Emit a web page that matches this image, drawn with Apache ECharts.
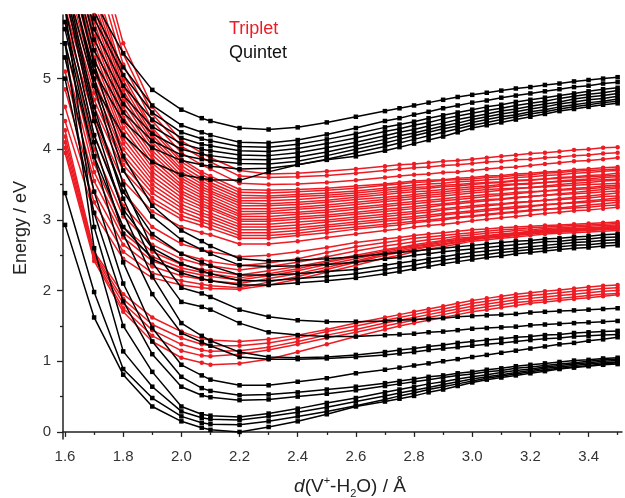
<!DOCTYPE html>
<html><head><meta charset="utf-8">
<script src="https://cdn.jsdelivr.net/npm/echarts@6/dist/echarts.min.js"></script>
<style>html,body{margin:0;padding:0;background:#fff}#c{width:625px;height:498px}</style>
</head><body><div id="c"></div>
<script>
// distance grid (Å)
const xValues = [1.6,1.7,1.8,1.9,2.0,2.07,2.1,2.2,2.3,2.4,2.5,2.6,2.7,2.75,2.8,2.85,2.9,2.95,3.0,3.05,3.1,3.15,3.2,3.25,3.3,3.35,3.4,3.45,3.5];
const xMajorTicks = [1.6,1.8,2.0,2.2,2.4,2.6,2.8,3.0,3.2,3.4];
const xMinorTicks = [1.7,1.9,2.1,2.3,2.5,2.7,2.9,3.1,3.3,3.5];
const yMajorTicks = [0,1,2,3,4,5];
const yMinorTicks = [0.5,1.5,2.5,3.5,4.5,5.5];

// Quintet states (eV)
const quintetBandA = [
 [8.0,6.1,5.36,4.84,4.56,4.44,4.40,4.30,4.28,4.31,4.38,4.46,4.54,4.58,4.62,4.66,4.70,4.74,4.77,4.80,4.83,4.86,4.88,4.91,4.93,4.96,4.98,5.00,5.02],
 [7.8,5.95,5.16,4.62,4.34,4.24,4.20,4.10,4.09,4.13,4.21,4.30,4.40,4.44,4.49,4.53,4.58,4.62,4.66,4.69,4.73,4.76,4.79,4.82,4.85,4.88,4.90,4.93,4.95],
 [7.6,5.85,5.05,4.52,4.24,4.15,4.12,4.04,4.03,4.07,4.14,4.22,4.31,4.35,4.39,4.44,4.48,4.52,4.56,4.60,4.63,4.67,4.70,4.73,4.76,4.79,4.82,4.85,4.87],
 [7.4,5.7,4.90,4.42,4.16,4.07,4.05,3.98,3.97,4.01,4.08,4.16,4.25,4.29,4.34,4.38,4.43,4.47,4.51,4.55,4.58,4.62,4.65,4.68,4.72,4.75,4.78,4.80,4.83],
 [7.2,5.55,4.76,4.32,4.08,4.00,3.98,3.92,3.91,3.95,4.02,4.10,4.19,4.24,4.28,4.33,4.37,4.42,4.46,4.50,4.54,4.57,4.61,4.64,4.67,4.71,4.74,4.76,4.79],
 [7.0,5.4,4.64,4.22,4.00,3.93,3.91,3.86,3.85,3.89,3.96,4.05,4.14,4.19,4.23,4.28,4.33,4.37,4.42,4.46,4.50,4.53,4.57,4.60,4.64,4.67,4.70,4.72,4.75],
 [6.8,5.25,4.52,4.12,3.92,3.86,3.84,3.80,3.79,3.83,3.91,4.00,4.09,4.14,4.19,4.24,4.29,4.33,4.38,4.42,4.46,4.49,4.53,4.56,4.60,4.63,4.66,4.68,4.71],
 [6.6,5.1,4.40,4.02,3.84,3.78,3.76,3.72,3.73,3.78,3.86,3.95,4.04,4.09,4.14,4.19,4.24,4.29,4.34,4.38,4.42,4.46,4.50,4.53,4.57,4.60,4.63,4.66,4.68],
 [6.4,4.9,4.20,3.82,3.64,3.59,3.57,3.56,3.68,3.78,3.85,3.90,3.98,4.03,4.08,4.13,4.18,4.24,4.30,4.34,4.38,4.42,4.46,4.50,4.54,4.57,4.60,4.63,4.65]
];
const quintetBandC = [
 [7.0,5.2,3.9,3.2,2.85,2.70,2.63,2.45,2.42,2.43,2.45,2.48,2.52,2.54,2.56,2.58,2.60,2.62,2.64,2.66,2.68,2.70,2.71,2.73,2.74,2.76,2.77,2.79,2.80],
 [6.7,5.0,3.7,3.05,2.72,2.58,2.52,2.36,2.34,2.35,2.37,2.40,2.45,2.47,2.50,2.52,2.55,2.57,2.59,2.61,2.63,2.65,2.67,2.69,2.70,2.72,2.73,2.75,2.76],
 [6.3,4.5,3.4,2.8,2.52,2.40,2.35,2.22,2.22,2.24,2.27,2.30,2.36,2.39,2.42,2.45,2.48,2.51,2.54,2.56,2.58,2.60,2.62,2.64,2.66,2.68,2.69,2.71,2.72],
 [6.0,4.2,3.15,2.6,2.38,2.28,2.24,2.14,2.14,2.17,2.20,2.24,2.30,2.33,2.36,2.40,2.43,2.46,2.49,2.51,2.54,2.56,2.58,2.60,2.62,2.64,2.65,2.67,2.68],
 [5.7,3.9,2.9,2.45,2.25,2.17,2.14,2.08,2.08,2.11,2.14,2.18,2.24,2.27,2.31,2.34,2.38,2.41,2.44,2.47,2.49,2.52,2.54,2.56,2.58,2.60,2.61,2.63,2.64]
];
const quintetBandB = [
 [6.8,4.9,3.5,2.6,2.04,1.96,1.91,1.73,1.63,1.58,1.56,1.56,1.57,1.58,1.59,1.60,1.61,1.63,1.64,1.65,1.66,1.67,1.69,1.70,1.71,1.72,1.73,1.74,1.75],
 [6.4,4.6,3.3,2.4,1.84,1.77,1.73,1.54,1.41,1.37,1.35,1.35,1.37,1.38,1.39,1.41,1.42,1.44,1.46,1.47,1.48,1.49,1.51,1.52,1.53,1.54,1.55,1.56,1.57],
 [6.2,4.4,3.1,2.2,1.54,1.36,1.29,1.13,1.06,1.05,1.06,1.09,1.13,1.16,1.18,1.21,1.23,1.26,1.28,1.30,1.32,1.34,1.35,1.37,1.38,1.40,1.41,1.42,1.43],
 [5.8,4.1,2.8,1.95,1.40,1.27,1.22,1.06,1.03,1.03,1.04,1.06,1.09,1.11,1.13,1.16,1.18,1.20,1.22,1.24,1.26,1.28,1.30,1.32,1.33,1.35,1.36,1.37,1.38],
 [5.5,3.9,2.4,1.47,0.95,0.80,0.74,0.66,0.66,0.71,0.76,0.83,0.88,0.91,0.94,0.97,1.00,1.03,1.06,1.09,1.12,1.15,1.18,1.21,1.24,1.26,1.29,1.31,1.34]
];
const quintetBandL = [
 [5.3,3.4,2.1,1.28,0.78,0.62,0.58,0.52,0.53,0.56,0.60,0.64,0.69,0.72,0.75,0.78,0.80,0.83,0.85,0.88,0.90,0.93,0.95,0.97,0.99,1.01,1.02,1.04,1.05],
 [5.0,3.1,1.85,1.10,0.64,0.52,0.49,0.45,0.46,0.50,0.54,0.59,0.65,0.68,0.71,0.74,0.77,0.80,0.82,0.85,0.87,0.90,0.92,0.94,0.96,0.98,1.00,1.02,1.03],
 [6.0,2.9,1.50,0.85,0.36,0.25,0.23,0.21,0.26,0.33,0.41,0.48,0.56,0.60,0.64,0.68,0.71,0.75,0.78,0.81,0.84,0.87,0.89,0.92,0.94,0.96,0.98,1.00,1.01],
 [5.5,2.6,1.14,0.64,0.29,0.20,0.18,0.17,0.22,0.28,0.35,0.43,0.51,0.55,0.59,0.63,0.67,0.71,0.75,0.78,0.81,0.84,0.87,0.90,0.92,0.94,0.96,0.98,0.99],
 [3.38,1.98,0.89,0.48,0.22,0.13,0.11,0.10,0.15,0.22,0.29,0.37,0.46,0.51,0.55,0.60,0.64,0.68,0.72,0.76,0.79,0.82,0.85,0.88,0.90,0.92,0.94,0.96,0.98],
 [2.93,1.62,0.81,0.36,0.15,0.06,0.03,0.00,0.07,0.15,0.25,0.36,0.43,0.47,0.51,0.56,0.60,0.65,0.70,0.74,0.77,0.80,0.83,0.86,0.89,0.91,0.93,0.95,0.96]
];

// Triplet states (eV)
const tripletBand1 = [
 [9.5,7.0,5.5,4.6,4.12,3.95,3.88,3.70,3.65,3.66,3.69,3.72,3.76,3.78,3.79,3.81,3.83,3.84,3.86,3.88,3.90,3.92,3.94,3.95,3.97,3.99,4.00,4.02,4.03],
 [9.2,6.8,5.35,4.5,4.04,3.88,3.82,3.62,3.60,3.61,3.63,3.66,3.70,3.72,3.74,3.75,3.77,3.78,3.80,3.82,3.83,3.85,3.86,3.88,3.89,3.91,3.92,3.94,3.95],
 [8.9,6.6,5.2,4.4,3.95,3.78,3.72,3.52,3.50,3.51,3.53,3.56,3.60,3.62,3.64,3.65,3.67,3.68,3.70,3.72,3.74,3.75,3.77,3.79,3.81,3.83,3.84,3.86,3.88],
 [8.6,6.4,5.05,4.3,3.86,3.68,3.62,3.43,3.42,3.43,3.45,3.48,3.51,3.53,3.55,3.56,3.57,3.59,3.60,3.62,3.63,3.65,3.66,3.68,3.69,3.71,3.72,3.74,3.75],
 [8.45,6.3,4.98,4.26,3.82,3.64,3.58,3.39,3.38,3.40,3.42,3.45,3.49,3.51,3.53,3.54,3.56,3.57,3.58,3.60,3.61,3.63,3.64,3.66,3.67,3.69,3.70,3.71,3.72],
 [8.3,6.2,4.9,4.2,3.77,3.59,3.53,3.35,3.34,3.36,3.38,3.41,3.45,3.47,3.49,3.51,3.52,3.54,3.55,3.57,3.58,3.60,3.61,3.63,3.64,3.66,3.67,3.69,3.70],
 [8.15,6.1,4.83,4.15,3.72,3.55,3.49,3.31,3.31,3.33,3.35,3.38,3.42,3.44,3.46,3.47,3.49,3.50,3.52,3.53,3.54,3.56,3.57,3.58,3.59,3.60,3.61,3.62,3.63],
 [8.0,6.0,4.75,4.1,3.68,3.51,3.45,3.27,3.27,3.29,3.32,3.35,3.39,3.41,3.43,3.45,3.47,3.48,3.50,3.52,3.53,3.55,3.56,3.58,3.60,3.61,3.63,3.64,3.66],
 [7.85,5.9,4.68,4.04,3.63,3.47,3.41,3.24,3.23,3.25,3.28,3.32,3.36,3.38,3.40,3.41,3.43,3.45,3.47,3.48,3.50,3.51,3.52,3.53,3.54,3.55,3.56,3.57,3.58],
 [7.7,5.8,4.6,3.98,3.59,3.43,3.38,3.20,3.20,3.22,3.25,3.29,3.32,3.34,3.36,3.38,3.40,3.42,3.44,3.46,3.48,3.50,3.51,3.53,3.55,3.57,3.58,3.60,3.61],
 [7.55,5.7,4.53,3.92,3.55,3.39,3.34,3.16,3.16,3.18,3.21,3.25,3.29,3.31,3.33,3.35,3.37,3.39,3.41,3.43,3.44,3.45,3.46,3.47,3.48,3.49,3.50,3.51,3.52],
 [7.4,5.6,4.45,3.86,3.50,3.35,3.30,3.12,3.12,3.15,3.18,3.22,3.26,3.28,3.30,3.32,3.34,3.36,3.38,3.40,3.42,3.44,3.46,3.48,3.50,3.52,3.53,3.55,3.56],
 [7.25,5.5,4.38,3.80,3.46,3.31,3.26,3.08,3.09,3.11,3.14,3.18,3.22,3.24,3.26,3.28,3.30,3.32,3.34,3.36,3.37,3.39,3.40,3.41,3.42,3.43,3.44,3.46,3.47],
 [7.1,5.4,4.3,3.74,3.41,3.27,3.22,3.05,3.05,3.08,3.11,3.15,3.19,3.21,3.23,3.25,3.27,3.29,3.31,3.33,3.35,3.37,3.39,3.41,3.43,3.45,3.46,3.48,3.49],
 [6.95,5.3,4.22,3.68,3.37,3.23,3.18,3.01,3.01,3.04,3.07,3.11,3.15,3.17,3.19,3.21,3.23,3.25,3.27,3.29,3.30,3.32,3.33,3.35,3.36,3.37,3.38,3.40,3.41],
 [6.8,5.2,4.15,3.62,3.32,3.19,3.15,2.98,2.98,3.01,3.04,3.08,3.12,3.14,3.16,3.18,3.21,3.23,3.25,3.27,3.29,3.31,3.33,3.35,3.37,3.39,3.41,3.43,3.45],
 [6.65,5.1,4.08,3.56,3.27,3.15,3.10,2.94,2.94,2.97,3.00,3.04,3.08,3.10,3.12,3.14,3.16,3.18,3.20,3.22,3.23,3.25,3.26,3.28,3.29,3.30,3.31,3.33,3.34],
 [6.5,5.0,4.0,3.50,3.22,3.10,3.06,2.90,2.90,2.93,2.97,3.01,3.05,3.07,3.09,3.11,3.14,3.16,3.18,3.20,3.22,3.24,3.26,3.28,3.30,3.32,3.34,3.36,3.38],
 [6.35,4.9,3.92,3.44,3.17,3.06,3.02,2.86,2.86,2.89,2.93,2.97,3.01,3.03,3.05,3.07,3.09,3.11,3.13,3.15,3.17,3.19,3.20,3.22,3.23,3.24,3.25,3.27,3.28],
 [6.2,4.8,3.85,3.38,3.12,3.01,2.97,2.82,2.82,2.85,2.90,2.94,2.98,3.00,3.02,3.04,3.07,3.09,3.11,3.13,3.15,3.17,3.19,3.21,3.23,3.25,3.27,3.29,3.31],
 [6.1,4.7,3.78,3.31,3.06,2.97,2.93,2.78,2.78,2.81,2.86,2.90,2.94,2.96,2.98,3.00,3.02,3.04,3.06,3.08,3.10,3.12,3.14,3.15,3.16,3.17,3.18,3.20,3.21],
 [6.0,4.6,3.7,3.25,3.01,2.92,2.88,2.74,2.74,2.78,2.82,2.87,2.91,2.93,2.96,2.98,3.00,3.03,3.05,3.07,3.09,3.11,3.13,3.15,3.17,3.19,3.21,3.23,3.25],
 [5.8,4.45,3.55,3.12,2.90,2.82,2.79,2.66,2.66,2.70,2.75,2.80,2.85,2.87,2.90,2.92,2.94,2.96,2.99,3.01,3.03,3.05,3.07,3.09,3.11,3.13,3.14,3.16,3.18]
];
const tripletBand2 = [
 [6.2,4.4,3.4,2.9,2.66,2.58,2.55,2.48,2.50,2.55,2.61,2.68,2.73,2.75,2.78,2.80,2.82,2.84,2.86,2.87,2.89,2.90,2.91,2.92,2.93,2.94,2.95,2.96,2.97],
 [6.0,4.2,3.2,2.75,2.52,2.44,2.41,2.35,2.39,2.45,2.54,2.62,2.68,2.71,2.74,2.76,2.78,2.80,2.82,2.84,2.86,2.87,2.89,2.90,2.91,2.92,2.93,2.94,2.95],
 [5.8,4.0,3.05,2.65,2.45,2.37,2.35,2.29,2.34,2.40,2.48,2.56,2.63,2.66,2.69,2.72,2.74,2.77,2.79,2.81,2.83,2.85,2.86,2.88,2.89,2.90,2.91,2.92,2.93],
 [5.5,3.8,2.9,2.55,2.37,2.30,2.28,2.22,2.28,2.34,2.42,2.50,2.58,2.61,2.65,2.68,2.71,2.74,2.76,2.78,2.80,2.82,2.84,2.86,2.87,2.88,2.89,2.90,2.91],
 [5.3,3.68,2.82,2.48,2.32,2.26,2.24,2.18,2.24,2.31,2.40,2.48,2.56,2.60,2.63,2.66,2.70,2.72,2.75,2.77,2.79,2.81,2.83,2.85,2.86,2.87,2.88,2.89,2.90],
 [5.1,3.55,2.75,2.42,2.28,2.22,2.20,2.15,2.21,2.28,2.37,2.45,2.54,2.58,2.62,2.65,2.68,2.71,2.74,2.76,2.78,2.80,2.82,2.84,2.85,2.86,2.87,2.88,2.89],
 [4.85,3.4,2.65,2.34,2.21,2.16,2.14,2.10,2.17,2.24,2.33,2.42,2.52,2.56,2.60,2.63,2.66,2.69,2.73,2.75,2.77,2.79,2.81,2.83,2.84,2.85,2.86,2.87,2.88],
 [4.6,3.25,2.55,2.25,2.14,2.09,2.07,2.04,2.12,2.20,2.30,2.40,2.50,2.54,2.58,2.62,2.65,2.68,2.72,2.74,2.76,2.78,2.80,2.82,2.83,2.84,2.85,2.86,2.87],
 [4.4,3.1,2.45,2.18,2.08,2.04,2.03,2.02,2.08,2.16,2.26,2.36,2.46,2.50,2.55,2.59,2.62,2.66,2.70,2.72,2.74,2.76,2.78,2.80,2.81,2.82,2.83,2.84,2.85]
];
const tripletBand3 = [
 [4.27,2.55,1.95,1.62,1.42,1.32,1.30,1.28,1.31,1.37,1.45,1.54,1.62,1.66,1.70,1.74,1.78,1.82,1.86,1.89,1.92,1.95,1.97,1.99,2.01,2.03,2.05,2.07,2.08],
 [4.18,2.52,1.88,1.52,1.33,1.24,1.22,1.22,1.26,1.33,1.42,1.50,1.58,1.62,1.66,1.70,1.74,1.78,1.82,1.85,1.88,1.91,1.93,1.95,1.97,1.99,2.01,2.03,2.04],
 [4.10,2.49,1.82,1.44,1.24,1.16,1.14,1.15,1.20,1.28,1.37,1.45,1.54,1.58,1.62,1.66,1.70,1.74,1.78,1.81,1.84,1.87,1.89,1.91,1.93,1.95,1.97,1.99,2.00],
 [4.02,2.46,1.75,1.36,1.15,1.08,1.07,1.10,1.16,1.24,1.33,1.41,1.50,1.54,1.58,1.62,1.66,1.70,1.74,1.77,1.80,1.83,1.85,1.87,1.89,1.91,1.93,1.95,1.96],
 [3.95,2.42,1.70,1.28,1.05,0.98,0.95,0.97,1.03,1.13,1.24,1.35,1.45,1.50,1.54,1.58,1.62,1.66,1.70,1.73,1.76,1.79,1.82,1.84,1.86,1.88,1.90,1.92,1.94]
];

const RED = '#ED1C24';
const BLACK = '#000000';
const FONT = '"Liberation Sans", Arial, Helvetica, sans-serif';

const series = [];
function addCurves(curves, name, color, symbol, size, z) {
  curves.forEach(vals => {
    series.push({
      type: 'line', name: name,
      data: xValues.map((x, i) => [x, vals[i]]),
      symbol: symbol, symbolSize: size, showSymbol: true,
      smooth: false,
      lineStyle: { color: color, width: 1.5 },
      itemStyle: { color: color },
      clip: true, silent: true, animation: false, z: z
    });
  });
}
addCurves(tripletBand1, 'Triplet', RED, 'circle', 4.5, 2);
addCurves(tripletBand2, 'Triplet', RED, 'circle', 4.5, 2);
addCurves(tripletBand3, 'Triplet', RED, 'circle', 4.5, 2);
addCurves(quintetBandA, 'Quintet', BLACK, 'rect', 4.5, 3);
addCurves(quintetBandC, 'Quintet', BLACK, 'rect', 4.5, 3);
addCurves(quintetBandB, 'Quintet', BLACK, 'rect', 4.5, 3);
addCurves(quintetBandL, 'Quintet', BLACK, 'rect', 4.5, 3);

const X_MIN = 1.593, X_MAX = 3.515, Y_MIN = -0.1, Y_MAX = 5.9;
const axisColor = '#222';

const chart = echarts.init(document.getElementById('c'), null, { renderer: 'canvas' });
chart.setOption({
  animation: false,
  backgroundColor: '#fff',
  grid: { left: 63, top: 15, width: 559, height: 424, containLabel: false },
  xAxis: [
    { type: 'value', min: X_MIN, max: X_MAX, position: 'bottom',
      axisLine: { show: true, lineStyle: { color: axisColor, width: 1.5 } },
      axisTick: { show: true, inside: false, length: 5, customValues: xMajorTicks, lineStyle: { color: axisColor, width: 1.3 } },
      axisLabel: { show: true, customValues: xMajorTicks, margin: 10, color: '#333', fontSize: 15, fontFamily: FONT,
                   formatter: v => Number(v).toFixed(1) },
      splitLine: { show: false } },
    { type: 'value', min: X_MIN, max: X_MAX, position: 'bottom', offset: 0,
      axisLine: { show: false },
      axisTick: { show: true, inside: false, length: 3, customValues: xMinorTicks, lineStyle: { color: axisColor, width: 1.3 } },
      axisLabel: { show: false }, splitLine: { show: false } }
  ],
  yAxis: [
    { type: 'value', min: Y_MIN, max: Y_MAX, position: 'left',
      axisLine: { show: true, lineStyle: { color: axisColor, width: 1.5 } },
      axisTick: { show: true, inside: false, length: 6, customValues: yMajorTicks, lineStyle: { color: axisColor, width: 1.3 } },
      axisLabel: { show: true, customValues: yMajorTicks, margin: 12, color: '#333', fontSize: 15, fontFamily: FONT },
      splitLine: { show: false } },
    { type: 'value', min: Y_MIN, max: Y_MAX, position: 'left', offset: 0,
      axisLine: { show: false },
      axisTick: { show: true, inside: false, length: 3, customValues: yMinorTicks, lineStyle: { color: axisColor, width: 1.3 } },
      axisLabel: { show: false }, splitLine: { show: false } }
  ],
  graphic: [
    { type: 'text', x: 229, y: 29, z: 100,
      style: { text: 'Triplet', fill: RED, font: '18px ' + FONT, align: 'left', verticalAlign: 'middle', textAlign: 'left', textVerticalAlign: 'middle' } },
    { type: 'text', x: 229, y: 53, z: 100,
      style: { text: 'Quintet', fill: '#111', font: '18px ' + FONT, align: 'left', verticalAlign: 'middle', textAlign: 'left', textVerticalAlign: 'middle' } },
    { type: 'text', x: 21, y: 228, rotation: Math.PI / 2, z: 100,
      style: { text: 'Energy / eV', fill: '#222', font: '18px ' + FONT, align: 'center', verticalAlign: 'middle', textAlign: 'center', textVerticalAlign: 'middle' } },
    { type: 'text', x: 350, y: 487, z: 100,
      style: { text: '{i|d}(V{sup|+}-H{sub|2}O) / Å', fill: '#222', font: '19px ' + FONT, lineHeight: 24,
               align: 'center', verticalAlign: 'middle', textAlign: 'center', textVerticalAlign: 'middle',
               rich: {
                 i: { fontStyle: 'italic', fontSize: 19, fontFamily: FONT, fill: '#222', lineHeight: 24 },
                 sup: { fontSize: 11, fontFamily: FONT, fill: '#222', verticalAlign: 'top', lineHeight: 14 },
                 sub: { fontSize: 11, fontFamily: FONT, fill: '#222', verticalAlign: 'bottom', lineHeight: 14 }
               } } }
  ],
  series: series
});
</script>
</body></html>
